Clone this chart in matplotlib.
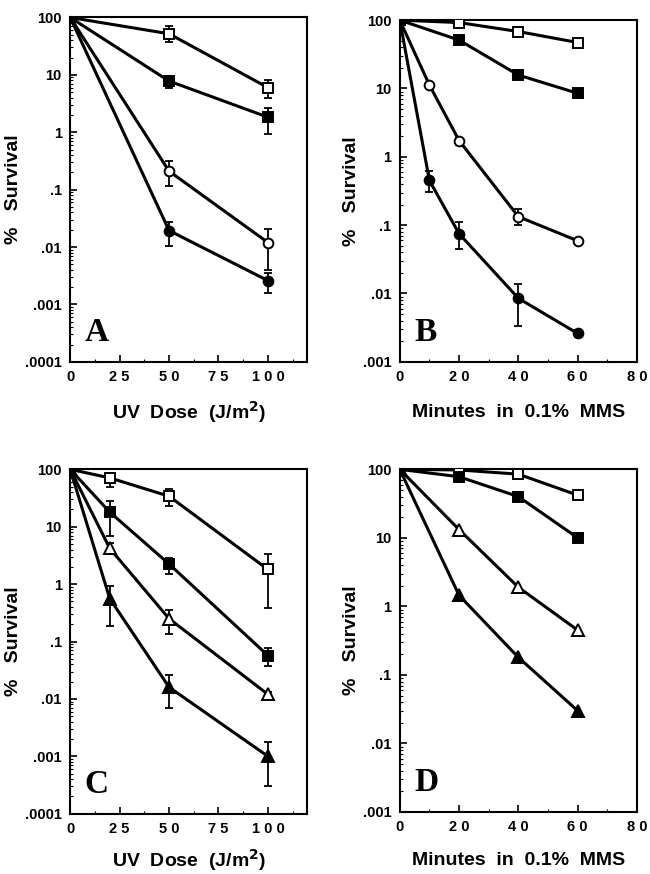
import matplotlib
matplotlib.use("Agg")
import matplotlib.pyplot as plt
from matplotlib.ticker import FixedLocator, LogLocator, NullFormatter

plt.rcParams['font.family'] = ['Liberation Sans', 'DejaVu Sans']
plt.rcParams['font.weight'] = 'bold'

# Panel A: UV dose
a_x = [0, 50, 100]
a_open_sq = [100, 52, 6.0]
a_open_sq_lo = [100, 37, 4.0]
a_open_sq_hi = [100, 71, 8.0]
a_fill_sq = [100, 7.8, 1.83]
a_fill_sq_lo = [100, 6.0, 0.93]
a_fill_sq_hi = [100, 9.5, 2.67]
a_open_ci = [100, 0.21, 0.012]
a_open_ci_lo = [100, 0.118, 0.004]
a_open_ci_hi = [100, 0.32, 0.0204]
a_fill_ci = [100, 0.0194, 0.0026]
a_fill_ci_lo = [100, 0.0105, 0.0016]
a_fill_ci_hi = [100, 0.0276, 0.0035]

# Panel B: MMS minutes
b_x4 = [0, 20, 40, 60]
b_x5 = [0, 10, 20, 40, 60]
b_open_sq = [100, 92, 68, 47]
b_fill_sq = [100, 51, 15.7, 8.5]
b_open_ci = [100, 11.2, 1.73, 0.133, 0.059]
b_open_ci_lo = [100, 11.2, 1.5, 0.10, 0.059]
b_open_ci_hi = [100, 11.2, 1.9, 0.17, 0.059]
b_fill_ci = [100, 0.45, 0.075, 0.0085, 0.0026]
b_fill_ci_lo = [100, 0.31, 0.045, 0.0034, 0.0023]
b_fill_ci_hi = [100, 0.62, 0.11, 0.014, 0.0029]

# Panel C: UV dose
c_x = [0, 20, 50, 100]
c_open_sq = [100, 71, 34, 1.8]
c_open_sq_lo = [100, 49, 23, 0.38]
c_open_sq_hi = [100, 87, 46, 3.3]
c_fill_sq = [100, 18, 2.24, 0.057]
c_fill_sq_lo = [100, 7.0, 1.48, 0.038]
c_fill_sq_hi = [100, 28.6, 2.8, 0.078]
c_open_tr = [100, 4.2, 0.25, 0.012]
c_open_tr_lo = [100, 3.4, 0.136, 0.011]
c_open_tr_hi = [100, 5.2, 0.36, 0.013]
c_fill_tr = [100, 0.56, 0.016, 0.001]
c_fill_tr_lo = [100, 0.19, 0.007, 0.0003]
c_fill_tr_hi = [100, 0.93, 0.026, 0.0018]

# Panel D: MMS minutes
d_x = [0, 20, 40, 60]
d_open_sq = [100, 98, 85, 42]
d_fill_sq = [100, 78, 40, 10]
d_open_tr = [100, 13.2, 1.9, 0.45]
d_fill_tr = [100, 1.45, 0.18, 0.030]

uv_ticks = [0, 25, 50, 75, 100]
uv_labels = ["0", "2 5", "5 0", "7 5", "1 0 0"]
mms_ticks = [0, 20, 40, 60, 80]
mms_labels = ["0", "2 0", "4 0", "6 0", "8 0"]
y_ticks_uv = [1e-4, 1e-3, 1e-2, 1e-1, 1, 10, 100]
y_labels_uv = [".0001", ".001", ".01", ".1", "1", "10", "100"]
y_ticks_mms = [1e-3, 1e-2, 1e-1, 1, 10, 100]
y_labels_mms = [".001", ".01", ".1", "1", "10", "100"]


def series(ax, x, y, marker, filled, lo=None, hi=None):
    fc = 'black' if filled else 'white'
    if lo is not None:
        yerr = [[v - l for v, l in zip(y, lo)], [h - v for v, h in zip(y, hi)]]
        ax.errorbar(x, y, yerr=yerr, fmt='none', ecolor='black',
                    elinewidth=1.3, capsize=3, capthick=1.3, zorder=2)
    ms = 7 if marker != '^' else 8
    ax.plot(x, y, color='black', lw=2.2, marker=marker, ms=ms,
            mfc=fc, mec='black', mew=1.4, zorder=3)


def style(ax, xticks, xlabels, xmax, xminor, yticks, ylabels, xlabel, letter,
          xpad=14):
    ax.set_yscale('log')
    ax.set_xlim(0, xmax)
    ax.set_ylim(yticks[0], yticks[-1])
    ax.set_xticks(xticks)
    ax.set_xticklabels(xlabels, fontsize=10.5, fontweight='bold')
    ax.xaxis.set_minor_locator(FixedLocator(xminor))
    ax.set_yticks(yticks)
    ax.set_yticklabels(ylabels, fontsize=10.5, fontweight='bold')
    ax.yaxis.set_minor_locator(LogLocator(base=10, subs=range(2, 10), numticks=20))
    ax.yaxis.set_minor_formatter(NullFormatter())
    ax.tick_params(which='major', direction='in', length=5, width=1.2,
                   top=False, right=False, pad=6)
    ax.tick_params(which='minor', direction='in', length=2.5, width=0.8,
                   top=False, right=False)
    for s in ax.spines.values():
        s.set_linewidth(1.5)
    ax.set_ylabel("%   Survival", fontsize=14, fontweight='bold', labelpad=2)
    ax.set_xlabel(xlabel, fontsize=14, fontweight='bold', labelpad=xpad)
    ax.text(0.06, 0.04, letter, transform=ax.transAxes, fontsize=24,
            fontweight='bold', family='Liberation Serif', ha='left', va='bottom')


fig = plt.figure(figsize=(6.5, 8.74), dpi=100)
axA = fig.add_axes([0.108, 0.586, 0.365, 0.394])
axB = fig.add_axes([0.615, 0.586, 0.365, 0.391])
axC = fig.add_axes([0.108, 0.069, 0.365, 0.394])
axD = fig.add_axes([0.615, 0.071, 0.365, 0.392])

uv_label = "UV  Dose  (J/m$^{\\mathbf{2}}$)"
mms_label = "Minutes  in  0.1%  MMS"

series(axA, a_x, a_open_sq, 's', False, a_open_sq_lo, a_open_sq_hi)
series(axA, a_x, a_fill_sq, 's', True, a_fill_sq_lo, a_fill_sq_hi)
series(axA, a_x, a_open_ci, 'o', False, a_open_ci_lo, a_open_ci_hi)
series(axA, a_x, a_fill_ci, 'o', True, a_fill_ci_lo, a_fill_ci_hi)
style(axA, uv_ticks, uv_labels, 120, [12.5, 37.5, 62.5, 87.5, 112.5],
      y_ticks_uv, y_labels_uv, uv_label, "A", xpad=11)

series(axB, b_x4, b_open_sq, 's', False)
series(axB, b_x4, b_fill_sq, 's', True)
series(axB, b_x5, b_open_ci, 'o', False, b_open_ci_lo, b_open_ci_hi)
series(axB, b_x5, b_fill_ci, 'o', True, b_fill_ci_lo, b_fill_ci_hi)
style(axB, mms_ticks, mms_labels, 80, [10, 30, 50, 70],
      y_ticks_mms, y_labels_mms, mms_label, "B", xpad=14)

series(axC, c_x, c_open_sq, 's', False, c_open_sq_lo, c_open_sq_hi)
series(axC, c_x, c_fill_sq, 's', True, c_fill_sq_lo, c_fill_sq_hi)
series(axC, c_x, c_open_tr, '^', False, c_open_tr_lo, c_open_tr_hi)
series(axC, c_x, c_fill_tr, '^', True, c_fill_tr_lo, c_fill_tr_hi)
style(axC, uv_ticks, uv_labels, 120, [12.5, 37.5, 62.5, 87.5, 112.5],
      y_ticks_uv, y_labels_uv, uv_label, "C", xpad=8)

series(axD, d_x, d_open_sq, 's', False)
series(axD, d_x, d_fill_sq, 's', True)
series(axD, d_x, d_open_tr, '^', False)
series(axD, d_x, d_fill_tr, '^', True)
style(axD, mms_ticks, mms_labels, 80, [10, 30, 50, 70],
      y_ticks_mms, y_labels_mms, mms_label, "D", xpad=13)

fig.savefig("out.png", dpi=100)
